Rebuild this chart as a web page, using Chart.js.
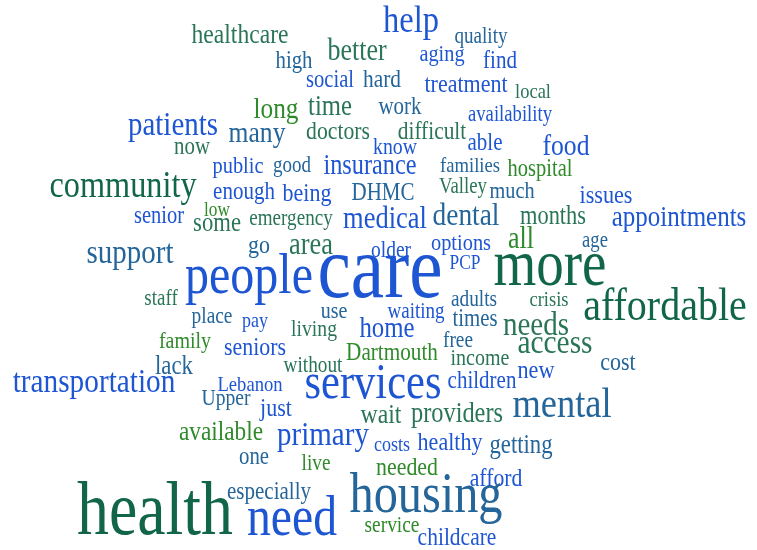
<!DOCTYPE html>
<html>
<head>
<meta charset="utf-8">
<title>Word cloud</title>
<script src="https://cdn.jsdelivr.net/npm/chart.js@4.4.1/dist/chart.umd.min.js"></script>
<style>
    html, body { margin: 0; padding: 0; background: #fff; }
    .wrap { width: 757px; height: 550px; position: relative; }
</style>
</head>
<body>
<div class="wrap"><canvas id="cloud"></canvas></div>
<script>
// --- words, their weight and where each one sits (x / y on the 757 x 550 grid) ---
const words = ['healthcare','high','better','help','quality','aging','find','social','hard','treatment',
    'local','long','time','work','availability','patients','many','doctors','difficult','able',
    'food','now','know','public','good','insurance','families','hospital','community','enough',
    'being','DHMC','Valley','much','issues','senior','low','some','emergency','medical',
    'dental','months','appointments','support','go','area','older','options','all','age',
    'PCP','people','care','more','staff','use','waiting','adults','crisis','affordable',
    'place','pay','living','home','times','needs','family','seniors','Dartmouth','free',
    'access','income','cost','lack','without','transportation','Lebanon','services','children','new',
    'Upper','just','mental','wait','providers','available','primary','costs','healthy','getting',
    'one','live','needed','afford','especially','housing','health','need','service','childcare'];

const weights = [23.6,20.8,26,32.5,19.1,20.3,21.1,20.6,21.4,22,
    18.5,25.3,24.7,21,18.7,28.9,25.6,21.7,21.4,21,
    25.7,20.9,19.8,20.4,19,24.3,18.6,20.5,32.3,21,
    22,21,18.8,20.3,22.2,20.5,17.3,22.7,19.1,26.5,
    27.4,22.4,25,29,22,26.4,19.5,20.4,26,18.7,
    17.4,48,75,55,19,20,19,19.3,18.5,40,
    19.4,18,19.7,24.8,20.8,29,20,21.9,21.2,19.3,
    29.4,20,22,22.8,19.3,29.3,18.6,42.5,21,22.2,
    19.6,22,36.4,23.8,24.4,23.3,29,18,22,22.7,
    20.8,19.3,21.9,21.7,21,48.3,63.8,47.7,19.4,21.5];

const xs = [240,294,357,411,481,442,500,330,382,466,
    533,276,330,400,510,173,257,338,432,485,
    566,192,395,238,292,370,470,540,123,244,
    307,383,463,512,606,159,217,217,291,385,
    466,553,679,130,259,311,391,461,521,595,
    465,249,380,550,161,334,416,474,549,665,
    212,255,314,387,475,536,185,255,392,458,
    555,480,618,174,313,94,250,373,482,536,
    226,276,562,381,457,221,323,392,450,521,
    254,316,407,496,269,426,155,292,392,457];

const ys = [43,68,60,32,43,61,68,87,87,92,
    98,118,115,114,121,135,142,139,139,150,
    155,154,154,173,172,174,172,176,197,199,
    201,200,193,198,203,223,216,231,225,228,
    225,224,226,263,253,254,257,250,248,247,
    269,293,297,285,305,318,318,306,306,320,
    323,327,336,337,326,335,348,355,360,347,
    353,365,370,374,372,392,391,398,388,378,
    405,416,417,423,422,440,445,451,450,453,
    464,470,475,486,499,512,534,535,532,545];

// colour group of each word
const tones = ['mg','tb','mg','bl','tb','bl','bl','bl','tb','bl',
    'mg','gr','mg','tb','bl','bl','tb','mg','mg','bl',
    'bl','mg','bl','bl','tb','bl','tb','gr','dg','bl',
    'bl','tb','mg','tb','bl','bl','gr','mg','mg','bl',
    'tb','mg','bl','tb','tb','mg','bl','bl','gr','tb',
    'bl','bl','bl','dg','mg','tb','bl','tb','mg','dg',
    'tb','bl','mg','bl','tb','mg','gr','bl','gr','tb',
    'mg','mg','tb','tb','mg','bl','bl','bl','bl','bl',
    'tb','bl','tb','mg','mg','gr','bl','bl','bl','tb',
    'tb','gr','gr','bl','tb','tb','dg','bl','gr','bl'];

const palette = {
    dg: '#11664a',  // deep green
    mg: '#2a7558',  // sea green
    gr: '#2f8a2a',  // leaf green
    tb: '#24659a',  // steel blue
    bl: '#1d55d2'   // royal blue
};

// draws each word at the pixel the scales give its point
const wordPlugin = {
    id: 'wordLabels',
    afterDatasetsDraw(chart) {
        const ctx = chart.ctx;
        const meta = chart.getDatasetMeta(0);
        ctx.save();
        ctx.textAlign = 'center';
        ctx.textBaseline = 'alphabetic';
        meta.data.forEach((pt, i) => {
            ctx.save();
            ctx.translate(pt.x, pt.y);
            ctx.scale(1, 1.18); // the original face is taller than Liberation Serif
            ctx.font = `${weights[i]}px "Liberation Serif", serif`;
            ctx.fillStyle = palette[tones[i]];
            ctx.fillText(words[i], 0, 0);
            ctx.restore();
        });
        ctx.restore();
    }
};

new Chart(document.getElementById('cloud'), {
    type: 'scatter',
    data: {
        datasets: [{
            label: 'words',
            data: words.map((w, i) => ({ x: xs[i], y: ys[i] })),
            pointRadius: 0,
            pointHoverRadius: 0
        }]
    },
    options: {
        responsive: true,
        maintainAspectRatio: false,
        animation: false,
        events: [],
        layout: { padding: 0 },
        plugins: {
            legend: { display: false },
            tooltip: { enabled: false }
        },
        scales: {
            x: { type: 'linear', min: 0, max: 757, display: false },
            y: { type: 'linear', min: 0, max: 550, reverse: true, display: false }
        }
    },
    plugins: [wordPlugin]
});
</script>
</body>
</html>
